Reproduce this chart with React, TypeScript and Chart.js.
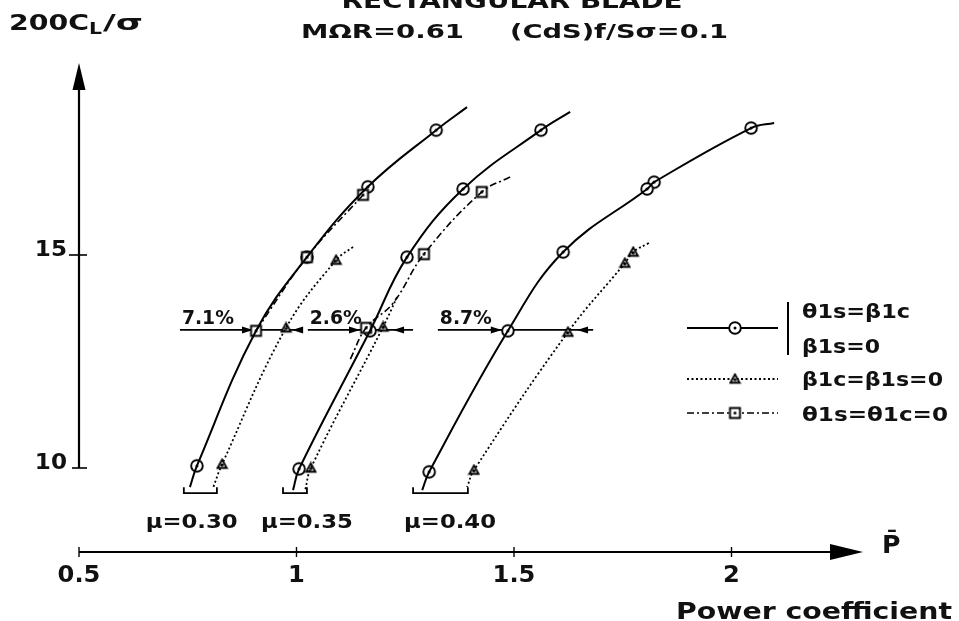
import React, { useEffect, useRef } from 'react';
import { Chart, registerables } from 'chart.js';
Chart.register(...registerables);

// ---------- data (x = power coefficient P̄, y = 200CL/σ) ----------
type Pt = [number, number];

const xTicks = [0.5, 1, 1.5, 2];
const xTickLabels = ['0.5', '1', '1.5', '2'];
const yTicks = [10, 15];
const yTickLabels = ['10', '15'];

// μ = 0.30
const mu30Solid: Pt[] = [[1.392, 18.47], [1.321, 17.93], [1.164, 16.60], [1.024, 14.95], [0.907, 13.22], [0.771, 10.05], [0.755, 9.55]];
const mu30Dotted: Pt[] = [[1.130, 15.19], [1.091, 14.88], [0.976, 13.29], [0.829, 10.09], [0.808, 9.53]];
const mu30DashDot: Pt[] = [[1.153, 16.41], [1.024, 14.95], [0.907, 13.22]];
const mu30Circles: Pt[] = [[1.321, 17.93], [1.164, 16.60], [1.024, 14.95], [0.771, 10.05]];
const mu30Triangles: Pt[] = [[1.091, 14.88], [0.976, 13.29], [0.829, 10.09]];
const mu30Squares: Pt[] = [[1.153, 16.41], [1.024, 14.95], [0.907, 13.22]];

// μ = 0.35
const mu35Solid: Pt[] = [[1.629, 18.36], [1.562, 17.93], [1.383, 16.55], [1.254, 14.95], [1.169, 13.22], [1.006, 9.98], [0.992, 9.48]];
const mu35Dotted: Pt[] = [[1.231, 14.01], [1.199, 13.31], [1.033, 10.00], [1.020, 9.48]];
const mu35DashDot: Pt[] = [[1.491, 16.83], [1.426, 16.48], [1.293, 15.02], [1.222, 13.87], [1.160, 13.29], [1.123, 12.54]];
const mu35Circles: Pt[] = [[1.562, 17.93], [1.383, 16.55], [1.254, 14.95], [1.169, 13.22], [1.006, 9.98]];
const mu35Triangles: Pt[] = [[1.199, 13.31], [1.033, 10.00]];
const mu35Squares: Pt[] = [[1.426, 16.48], [1.293, 15.02], [1.160, 13.29]];

// μ = 0.40
const mu40Solid: Pt[] = [[2.098, 18.10], [2.045, 17.98], [1.822, 16.71], [1.806, 16.55], [1.613, 15.07], [1.486, 13.22], [1.305, 9.91], [1.289, 9.48]];
const mu40Dotted: Pt[] = [[1.810, 15.28], [1.774, 15.07], [1.755, 14.81], [1.624, 13.19], [1.408, 9.95], [1.392, 9.55]];
const mu40Circles: Pt[] = [[2.045, 17.98], [1.822, 16.71], [1.806, 16.55], [1.613, 15.07], [1.486, 13.22], [1.305, 9.91]];
const mu40Triangles: Pt[] = [[1.774, 15.07], [1.755, 14.81], [1.624, 13.19], [1.408, 9.95]];

// μ brackets (left P, right P) and labels
const muLabels = ['μ=0.30', 'μ=0.35', 'μ=0.40'];
const muLabelCenter = [0.759, 1.024, 1.353];
const bracketLeft = [0.741, 0.969, 1.268];
const bracketRight = [0.817, 1.024, 1.394];
const bracketTop = 9.55;
const bracketBottom = 9.41;

// power-saving arrows at constant thrust
const pctLabels = ['7.1%', '2.6%', '8.7%'];
const pctLevel = 13.24;
const pctStart = [0.732, 1.026, 1.325];
const pctRightTip = [0.900, 1.146, 1.472];
const pctLeftTip = [0.990, 1.222, 1.645];
const pctEnd = [1.013, 1.268, 1.682];

const legendLabels = [['θ1s=β1c', 'β1s=0'], ['β1c=β1s=0'], ['θ1s=θ1c=0']];

// ---------- helpers ----------
const FONT = '"DejaVu Sans"';

function drawText(ctx: CanvasRenderingContext2D, s: string, x: number, y: number, size: number, align: 'left' | 'center' | 'right', width?: number, stretch = 1.05) {
  ctx.save();
  ctx.font = `bold ${size}px ${FONT}`;
  ctx.textAlign = 'left';
  ctx.textBaseline = 'alphabetic';
  const mw = ctx.measureText(s).width;
  const sx = width ? width / mw : stretch;
  const w = mw * sx;
  const left = align === 'center' ? x - w / 2 : align === 'right' ? x - w : x;
  ctx.translate(left, y);
  ctx.scale(sx, 1);
  ctx.fillStyle = '#111';
  ctx.fillText(s, 0, 0);
  ctx.restore();
}

function makeMarker(kind: 'circle' | 'square' | 'triangle'): HTMLCanvasElement {
  const s = kind === 'circle' ? 16 : kind === 'square' ? 15 : 13;
  const c = document.createElement('canvas');
  c.width = s; c.height = s;
  const g = c.getContext('2d')!;
  const m = s / 2;
  g.fillStyle = '#fff';
  g.strokeStyle = '#000';
  g.lineWidth = 1.9;
  g.beginPath();
  if (kind === 'circle') g.arc(m, m, 5.8, 0, Math.PI * 2);
  else if (kind === 'square') g.rect(m - 5, m - 5, 10, 10);
  else { g.moveTo(m, m - 4.6); g.lineTo(m + 4.6, m + 3.8); g.lineTo(m - 4.6, m + 3.8); g.closePath(); }
  g.fill(); g.stroke();
  g.fillStyle = '#000';
  g.beginPath();
  g.arc(m, kind === 'triangle' ? m + 0.8 : m, 1.5, 0, Math.PI * 2);
  g.fill();
  return c;
}

function arrowHead(ctx: CanvasRenderingContext2D, tipX: number, tipY: number, dirX: number, dirY: number, len: number, half: number) {
  const bx = tipX - dirX * len, by = tipY - dirY * len;
  const px = -dirY, py = dirX;
  ctx.beginPath();
  ctx.moveTo(tipX, tipY);
  ctx.lineTo(bx + px * half, by + py * half);
  ctx.lineTo(bx - px * half, by - py * half);
  ctx.closePath();
  ctx.fill();
}

const toXY = (a: Pt[]) => a.map(([x, y]) => ({ x, y }));

export default function App() {
  const ref = useRef<HTMLCanvasElement>(null);

  useEffect(() => {
    document.body.style.margin = '0';
    const circle = makeMarker('circle');
    const square = makeMarker('square');
    const triangle = makeMarker('triangle');

    const solid = { borderColor: '#000', borderWidth: 2, pointRadius: 0, showLine: true, tension: 0.4, fill: false };
    const dotted = { ...solid, borderWidth: 1.8, borderDash: [2, 2.5] };
    const dashDot = { ...solid, borderWidth: 1.6, borderDash: [7, 3, 2, 3] };
    const marks = (img: HTMLCanvasElement) => ({ showLine: false, pointStyle: img, pointRadius: 6, pointHoverRadius: 6, borderColor: '#000', backgroundColor: '#fff' });

    const brackets = bracketLeft.map((l, i) => ({
      data: toXY([[l, bracketTop], [l, bracketBottom], [bracketRight[i], bracketBottom], [bracketRight[i], bracketTop]]),
      borderColor: '#000', borderWidth: 1.8, pointRadius: 0, showLine: true, tension: 0, fill: false,
    }));

    const deco = {
      id: 'deco',
      beforeDatasetsDraw(chart: any) {
        const ctx: CanvasRenderingContext2D = chart.ctx;
        const xs = chart.scales.x, ys = chart.scales.y;
        ctx.save();
        ctx.strokeStyle = '#000';
        ctx.fillStyle = '#000';
        ctx.lineWidth = 1.8;
        const yy = ys.getPixelForValue(pctLevel);
        pctStart.forEach((s, i) => {
          const x0 = xs.getPixelForValue(s), x1 = xs.getPixelForValue(pctEnd[i]);
          ctx.beginPath(); ctx.moveTo(x0, yy); ctx.lineTo(x1, yy); ctx.stroke();
          arrowHead(ctx, xs.getPixelForValue(pctRightTip[i]), yy, 1, 0, 11, 3.5);
          arrowHead(ctx, xs.getPixelForValue(pctLeftTip[i]), yy, -1, 0, 11, 3.5);
        });
        ctx.restore();
      },
      afterDraw(chart: any) {
        const ctx: CanvasRenderingContext2D = chart.ctx;
        const xs = chart.scales.x, ys = chart.scales.y;
        const area = chart.chartArea;
        ctx.save();
        ctx.strokeStyle = '#000';
        ctx.fillStyle = '#000';
        // x axis
        const ax = area.bottom;
        ctx.lineWidth = 2.2;
        ctx.beginPath(); ctx.moveTo(xs.getPixelForValue(xTicks[0]), ax); ctx.lineTo(area.right - 20, ax); ctx.stroke();
        arrowHead(ctx, area.right, ax, 1, 0, 33, 8);
        ctx.lineWidth = 1.4;
        xTicks.forEach((t, i) => {
          const px = xs.getPixelForValue(t);
          ctx.beginPath(); ctx.moveTo(px, ax - 5); ctx.lineTo(px, ax + 5); ctx.stroke();
          drawText(ctx, xTickLabels[i], px, ax + 30, 23, 'center');
        });
        // y axis
        const ayx = xs.getPixelForValue(xTicks[0]);
        ctx.lineWidth = 2.2;
        ctx.beginPath(); ctx.moveTo(ayx, ys.getPixelForValue(yTicks[0])); ctx.lineTo(ayx, area.top + 15); ctx.stroke();
        arrowHead(ctx, ayx, area.top, 0, -1, 27, 6.5);
        ctx.lineWidth = 1.6;
        yTicks.forEach((t, i) => {
          const py = ys.getPixelForValue(t);
          ctx.beginPath(); ctx.moveTo(ayx - (i === 0 ? 7 : 10), py); ctx.lineTo(ayx + 8, py); ctx.stroke();
          drawText(ctx, yTickLabels[i], ayx - 12, py + 1, 22, 'right');
        });
        // axis titles
        drawText(ctx, '200C', 9, 30, 22, 'left', 80);
        drawText(ctx, 'L', 89, 34, 15, 'left', 13);
        drawText(ctx, '/σ', 103, 30, 22, 'left', 40);
        drawText(ctx, 'P\u0304', 882, ax + 1, 24, 'left');
        drawText(ctx, 'Power coefficient', 952, 619, 23, 'right', 276);
        // titles
        drawText(ctx, 'RECTANGULAR BLADE', 512, 8, 21, 'center', 341);
        drawText(ctx, 'MΩR=0.61', 301, 38, 20, 'left', 163);
        drawText(ctx, '(CdS)f/Sσ=0.1', 510, 38, 20, 'left', 218);
        // μ labels
        muLabels.forEach((s, i) => {
          drawText(ctx, s, xs.getPixelForValue(muLabelCenter[i]), 528, 20, 'center', 92);
        });
        // percentage labels
        const yy = ys.getPixelForValue(pctLevel);
        pctLabels.forEach((s, i) => {
          drawText(ctx, s, xs.getPixelForValue(pctStart[i]) + 2, yy - 6, 20, 'left', 52);
        });
        // legend
        const lx0 = 687, lx1 = 778, lm = 735;
        const rows = [328, 379, 413];
        const styles: [number[], number, HTMLCanvasElement][] = [[[], 2, circle], [[2, 2.5], 1.8, triangle], [[7, 3, 2, 3], 1.6, square]];
        styles.forEach(([dash, w, img], i) => {
          ctx.setLineDash(dash);
          ctx.lineWidth = w;
          ctx.beginPath(); ctx.moveTo(lx0, rows[i]); ctx.lineTo(lx1, rows[i]); ctx.stroke();
          ctx.setLineDash([]);
          ctx.drawImage(img, lm - img.width / 2, rows[i] - img.height / 2);
        });
        ctx.lineWidth = 2;
        ctx.beginPath(); ctx.moveTo(788, 302); ctx.lineTo(788, 355); ctx.stroke();
        drawText(ctx, legendLabels[0][0], 802, 318, 19, 'left', 108);
        drawText(ctx, legendLabels[0][1], 802, 353, 19, 'left', 78);
        drawText(ctx, legendLabels[1][0], 802, 386, 19, 'left', 141);
        drawText(ctx, legendLabels[2][0], 802, 421, 19, 'left', 146);
        ctx.restore();
      },
    };

    const chart = new Chart(ref.current!, {
      type: 'scatter',
      data: {
        datasets: [
          { data: toXY(mu30Solid), ...solid },
          { data: toXY(mu30Dotted), ...dotted },
          { data: toXY(mu30DashDot), ...dashDot },
          { data: toXY(mu35Solid), ...solid },
          { data: toXY(mu35Dotted), ...dotted },
          { data: toXY(mu35DashDot), ...dashDot },
          { data: toXY(mu40Solid), ...solid },
          { data: toXY(mu40Dotted), ...dotted },
          ...brackets,
          { data: toXY(mu30Squares), ...marks(square) },
          { data: toXY(mu35Squares), ...marks(square) },
          { data: toXY(mu30Triangles), ...marks(triangle) },
          { data: toXY(mu35Triangles), ...marks(triangle) },
          { data: toXY(mu40Triangles), ...marks(triangle) },
          { data: toXY(mu30Circles), ...marks(circle) },
          { data: toXY(mu35Circles), ...marks(circle) },
          { data: toXY(mu40Circles), ...marks(circle) },
        ] as any,
      },
      options: {
        responsive: false,
        animation: false,
        devicePixelRatio: 1,
        layout: { padding: { left: 79, right: 96, top: 63, bottom: 69 } },
        scales: {
          x: { type: 'linear', display: false, min: 0.5, max: 2.3023 },
          y: { type: 'linear', display: false, min: 8.028, max: 19.507 },
        },
        plugins: { legend: { display: false }, tooltip: { enabled: false }, title: { display: false } },
        events: [],
      },
      plugins: [deco],
    });
    return () => chart.destroy();
  }, []);

  return (
    <div style={{ position: 'absolute', left: 0, top: 0, width: 959, height: 621, background: '#fff' }}>
      <canvas ref={ref} width={959} height={621} style={{ display: 'block' }} />
    </div>
  );
}
